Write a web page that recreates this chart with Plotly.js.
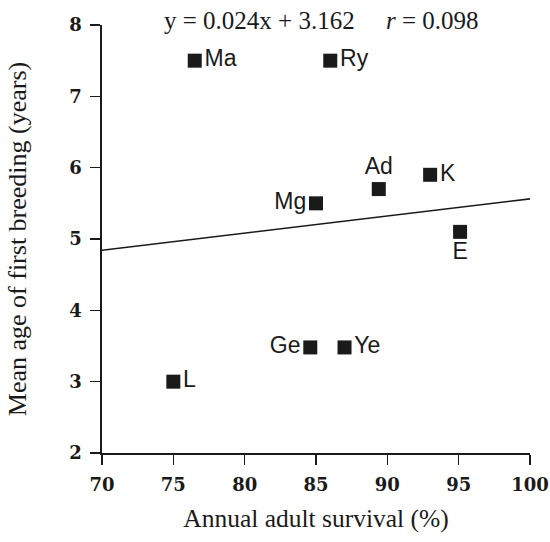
<!DOCTYPE html>
<html>
<head>
<meta charset="utf-8">
<script src="https://cdn.plot.ly/plotly-3.0.1.min.js"></script>
<style>
  html, body { margin: 0; padding: 0; background: #fff; }
  #chart { width: 550px; height: 542px; }
</style>
</head>
<body>
<div id="chart"></div>
<script>
// Species codes, adult survival (%) and mean age of first breeding (years)
const species  = ["Ma", "Ry", "Mg", "Ad", "K", "E", "Ge", "Ye", "L"];
const survival = [76.5, 86.0, 85.0, 89.4, 93.0, 95.1, 84.6, 87.0, 75.0];
const ageFirst = [7.5, 7.5, 5.5, 5.7, 5.9, 5.1, 3.48, 3.48, 3.0];
const labelSide = ["middle right", "middle right", "middle left", "top center",
                   "middle right", "bottom center", "middle left", "middle right", "middle right"];

// Fitted regression: y = slope * x + intercept
const slope = 0.024;
const intercept = 3.162;
const rValue = 0.098;
const fitX = [70, 100];
const fitY = fitX.map(x => slope * x + intercept);

const xTicks = [70, 75, 80, 85, 90, 95, 100];
const yTicks = [2, 3, 4, 5, 6, 7, 8];

const ink = "#1a1a1a";
const serif = "'Liberation Serif', 'Times New Roman', serif";
const tickFont = { family: "'DejaVu Serif', serif", size: 18, color: ink, weight: 700 };

const traces = [
  {
    x: fitX, y: fitY, type: "scatter", mode: "lines",
    line: { color: ink, width: 1.6 }, hoverinfo: "skip"
  },
  {
    x: survival, y: ageFirst, type: "scatter", mode: "markers+text",
    text: species, textposition: labelSide,
    textfont: { family: "'Liberation Sans', Arial, sans-serif", size: 23, color: ink },
    marker: { symbol: "square", size: 14, color: ink }
  }
];

const layout = {
  width: 550, height: 542,
  margin: { l: 102, r: 20, t: 25, b: 89 },
  paper_bgcolor: "#fff", plot_bgcolor: "#fff",
  showlegend: false,
  xaxis: {
    range: [70, 100], tickvals: xTicks, ticks: "outside", ticklen: 10, tickwidth: 1.6,
    tickcolor: ink, showline: true, linecolor: ink, linewidth: 1.6,
    showgrid: false, zeroline: false, tickfont: tickFont, ticklabelstandoff: 5,
    title: { text: "Annual adult survival (%)", font: { family: serif, size: 25.5, color: ink }, standoff: 15 },
    automargin: false
  },
  yaxis: {
    range: [2, 8], tickvals: yTicks, ticks: "outside", ticklen: 10, tickwidth: 1.6,
    tickcolor: ink, showline: true, linecolor: ink, linewidth: 1.6,
    showgrid: false, zeroline: false, tickfont: tickFont, ticklabelstandoff: 5,
    title: { text: "Mean age of first breeding (years)", font: { family: serif, size: 26, color: ink }, standoff: 35 },
    automargin: false
  },
  annotations: [
    {
      xref: "paper", yref: "paper", x: 0.512, y: 1.01, xanchor: "center", yanchor: "middle",
      showarrow: false,
      text: "y = " + slope.toFixed(3) + "x + " + intercept.toFixed(3) +
            "&nbsp;&nbsp;&nbsp;&nbsp;&nbsp;<i>r</i> = " + rValue.toFixed(3),
      font: { family: serif, size: 25, color: ink }
    }
  ]
};

Plotly.newPlot("chart", traces, layout, { staticPlot: true, displayModeBar: false });
</script>
</body>
</html>
